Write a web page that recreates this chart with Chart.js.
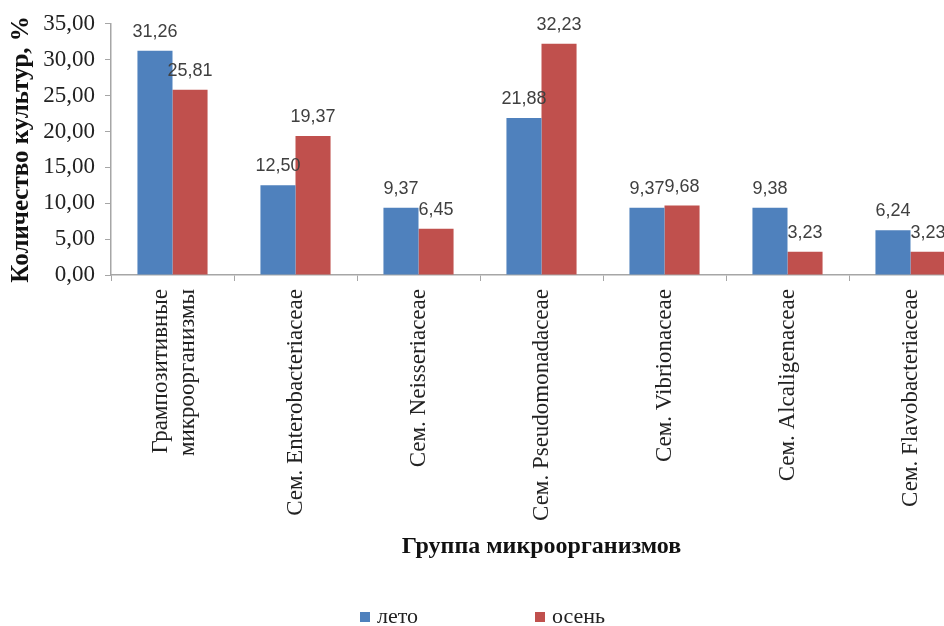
<!DOCTYPE html>
<html>
<head>
<meta charset="utf-8">
<script src="https://cdn.jsdelivr.net/npm/chart.js@4"></script>
<style>
  html, body { margin: 0; padding: 0; background: #fff; overflow: hidden; }
  #wrap { width: 944px; height: 626px; overflow: hidden; position: relative; }
</style>
</head>
<body>
<div id="wrap">
  <canvas id="bacteria" width="975" height="626"></canvas>
</div>
<script>
'use strict';

// группы микроорганизмов
var categories = [
  ['Грампозитивные', 'микроорганизмы'],
  'Сем. Enterobacteriaceae',
  'Сем. Neisseriaceae',
  'Сем. Pseudomonadaceae',
  'Сем. Vibrionaceae',
  'Сем. Alcaligenaceae',
  'Сем. Flavobacteriaceae'
]
var summer = [31.26, 12.50, 9.37, 21.88, 9.37, 9.38, 6.24]
var autumn = [25.81, 19.37, 6.45, 32.23, 9.68, 3.23, 3.23]
var seriesNames = ['лето', 'осень']
var yTicks = { min: 0, max: 35, step: 5 }

var serif = "'Liberation Serif', 'Times New Roman', serif"

function fmt(v) {
  return v.toFixed(2).replace('.', ',')
}

// подписи значений над столбцами
var valueLabels = {
  id: 'valueLabels',
  afterDatasetsDraw: function (chart) {
    var ctx = chart.ctx
    ctx.save()
    ctx.font = "18px 'Liberation Sans', Arial, sans-serif"
    ctx.fillStyle = '#404040'
    ctx.textAlign = 'center'
    ctx.textBaseline = 'alphabetic'
    chart.data.datasets.forEach(function (ds, i) {
      chart.getDatasetMeta(i).data.forEach(function (bar, j) {
        ctx.fillText(fmt(ds.data[j]), bar.x, bar.y - 14)
      })
    })
    ctx.restore()
  }
}

// двухстрочную подпись сдвигаем к центру категории
var centerMultiline = {
  id: 'centerMultiline',
  beforeDraw: function (chart) {
    chart.scales.x.getLabelItems().forEach(function (item) {
      if (Array.isArray(item.label) && !item._moved) {
        item.options.translation[0] -= 12
        item._moved = true
      }
    })
  }
}

// легенда внизу, элементы далеко друг от друга
var wideLegend = {
  id: 'wideLegend',
  afterDraw: function (chart) {
    var ctx = chart.ctx
    var y = chart.height - 9
    var x = 360
    ctx.save()
    ctx.font = '22px ' + serif
    ctx.textBaseline = 'middle'
    ctx.textAlign = 'left'
    chart.data.datasets.forEach(function (ds) {
      ctx.fillStyle = ds.backgroundColor
      ctx.fillRect(x, y - 5, 10, 10)
      ctx.fillStyle = '#222'
      ctx.fillText(ds.label, x + 17, y)
      x += 175
    })
    ctx.restore()
  }
}

var ctx = document.getElementById('bacteria').getContext('2d')

var chart = new Chart(ctx, {
  type: 'bar',
  data: {
    labels: categories,
    datasets: [
      { label: seriesNames[0], data: summer, backgroundColor: '#4F81BD' },
      { label: seriesNames[1], data: autumn, backgroundColor: '#C0504D' }
    ]
  },
  options: {
    responsive: false,
    animation: false,
    devicePixelRatio: 1,
    layout: { padding: { top: 21, right: 3, bottom: 51, left: 0 } },
    datasets: { bar: { barPercentage: 1, categoryPercentage: 0.57 } },
    plugins: {
      legend: { display: false },
      tooltip: { enabled: false }
    },
    scales: {
      x: {
        afterFit: function (scale) { scale.height = 300 },
        grid: { drawOnChartArea: false, tickLength: 6, color: '#a6a6a6' },
        border: { color: '#a6a6a6', width: 1.5 },
        ticks: {
          maxRotation: 90,
          minRotation: 90,
          padding: 8,
          color: '#222',
          font: { family: serif, size: 23 }
        },
        title: {
          display: true,
          text: 'Группа микроорганизмов',
          color: '#111',
          padding: { top: 0, bottom: 14 },
          font: { family: serif, size: 24, weight: 'bold' }
        }
      },
      y: {
        min: yTicks.min,
        max: yTicks.max,
        afterFit: function (scale) { scale.width = 111 },
        grid: { drawOnChartArea: false, tickLength: 6, color: '#a6a6a6' },
        border: { color: '#a6a6a6', width: 1.5 },
        ticks: {
          stepSize: yTicks.step,
          padding: 10,
          color: '#222',
          font: { family: serif, size: 23 },
          callback: function (v) { return fmt(v) }
        },
        title: {
          display: true,
          text: 'Количество культур, %',
          color: '#111',
          padding: { top: 7, bottom: 0 },
          font: { family: serif, size: 25, weight: 'bold' }
        }
      }
    }
  },
  plugins: [valueLabels, centerMultiline, wideLegend]
})
</script>
</body>
</html>
